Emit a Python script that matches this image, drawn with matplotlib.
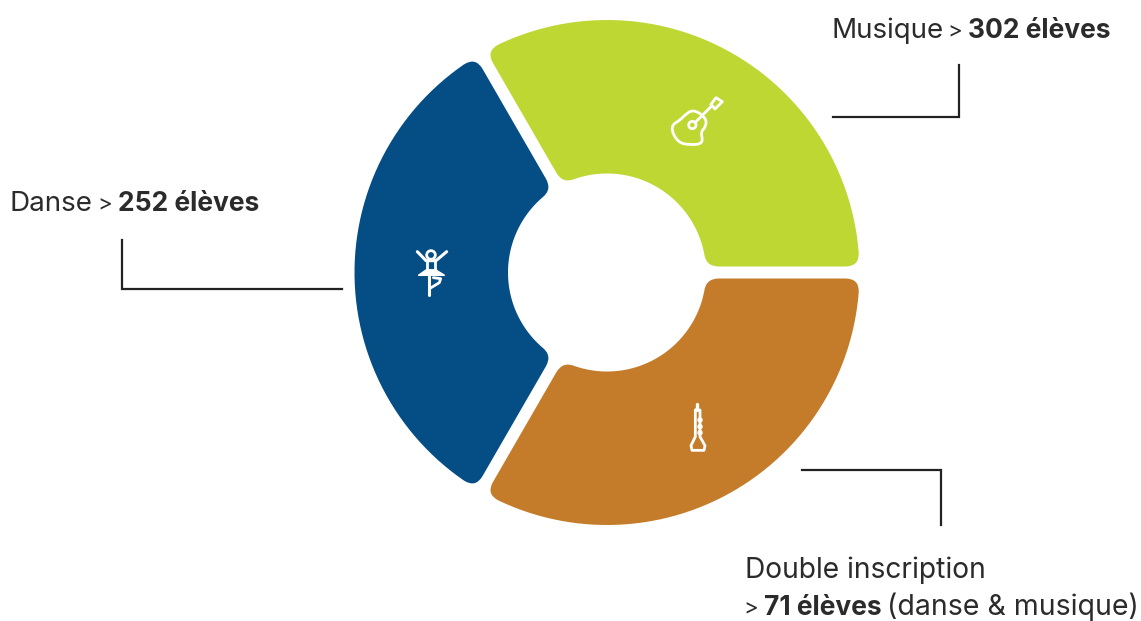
import numpy as np
import matplotlib
matplotlib.use("Agg")
import matplotlib.pyplot as plt
from matplotlib.path import Path
from matplotlib.patches import PathPatch, Circle, Polygon

# the three parts are drawn with the same size in the picture
categories = ["Musique", "Danse", "Double inscription"]
eleves = [302, 252, 71]
shares = [1, 1, 1]
colors = ["#bfd732", "#044d85", "#c47c2a"]
text_color = "#2b2b2b"

W, H = 1141, 621
cx, cy = 607, 272.5
r_out, r_in = 252.5, 99
gap = 12
round_out, round_in = 14, 13

plt.rcParams['font.family'] = ['Inter', 'DejaVu Sans']

fig = plt.figure(figsize=(W / 100, H / 100), dpi=100)
ax = fig.add_axes([0, 0, 1, 1])
ax.set_xlim(0, W)
ax.set_ylim(H, 0)
ax.axis("off")


def pol(r, a):
    return np.array([cx + r * np.cos(a), cy - r * np.sin(a)])


def arc_pts(r, a1, a2, n=60):
    return [pol(r, a) for a in np.linspace(a1, a2, n)]


def slice_path(a1, a2):
    # angle where the offset edge meets a circle of radius r
    half = gap / 2
    d_out = np.arcsin(half / r_out)
    d_in = np.arcsin(half / r_in)
    t_out = round_out / r_out
    t_in = round_in / r_in
    e1 = np.array([np.cos(a1), -np.sin(a1)])
    e2 = np.array([np.cos(a2), -np.sin(a2)])

    verts, codes = [], []

    def add(p, c):
        verts.append(p)
        codes.append(c)

    c_o1, c_o2 = pol(r_out, a1 + d_out), pol(r_out, a2 - d_out)
    c_i1, c_i2 = pol(r_in, a1 + d_in), pol(r_in, a2 - d_in)

    add(c_i1 + e1 * round_in, Path.MOVETO)
    add(c_o1 - e1 * round_out, Path.LINETO)
    add(c_o1, Path.CURVE3)
    add(pol(r_out, a1 + d_out + t_out), Path.CURVE3)
    for p in arc_pts(r_out, a1 + d_out + t_out, a2 - d_out - t_out):
        add(p, Path.LINETO)
    add(c_o2, Path.CURVE3)
    add(c_o2 - e2 * round_out, Path.CURVE3)
    add(c_i2 + e2 * round_in, Path.LINETO)
    add(c_i2, Path.CURVE3)
    add(pol(r_in, a2 - d_in - t_in), Path.CURVE3)
    for p in arc_pts(r_in, a2 - d_in - t_in, a1 + d_in + t_in):
        add(p, Path.LINETO)
    add(c_i1, Path.CURVE3)
    add(c_i1 + e1 * round_in, Path.CURVE3)
    add(c_i1 + e1 * round_in, Path.CLOSEPOLY)
    return Path(verts, codes)


start = 0.0
total = sum(shares)
for share, col in zip(shares, colors):
    a2 = start + 2 * np.pi * share / total
    ax.add_patch(PathPatch(slice_path(start, a2), fc=col, ec="none"))
    start = a2

# leader lines
ax.plot([833, 958.5, 958.5], [117, 117, 65], color="#222222", lw=1.6, solid_joinstyle="miter")
ax.plot([122, 122, 342], [240, 289, 289], color="#222222", lw=1.6, solid_joinstyle="miter")
ax.plot([802, 941, 941], [469.5, 469.5, 525], color="#222222", lw=1.6, solid_joinstyle="miter")


def label(x, y, s, weight="normal", size=20):
    ax.text(x, y, s, fontsize=size, fontweight=weight, color=text_color, va="baseline", ha="left")


label(832, 38, categories[0])
label(947, 37, ">", size=16)
label(968, 38, f"{eleves[0]} élèves", "bold", 19)
label(9, 211, categories[1])
label(97, 210, ">", size=16)
label(118, 211, f"{eleves[1]} élèves", "bold", 19)
label(745, 578, categories[2], size=20.3)
label(743, 614, ">", size=16)
label(764, 615, f"{eleves[2]} élèves", "bold", 19)
label(887, 615, "(danse & musique)", size=20.5)


# icons, sketched in small local pixel coordinates
def sx(x0, s=1 / 3):
    return lambda p: (x0[0] + p[0] * s, x0[1] + p[1] * s)


def smooth(points, tr):
    pts = [np.array(tr(p)) for p in points]
    n = len(pts)
    verts = [(pts[-1] + pts[0]) / 2]
    codes = [Path.MOVETO]
    for i in range(n):
        verts += [pts[i], (pts[i] + pts[(i + 1) % n]) / 2]
        codes += [Path.CURVE3, Path.CURVE3]
    return Path(verts, codes)


def stroke(tr, pts, lw=2.0):
    xy = [tr(p) for p in pts]
    ax.plot([p[0] for p in xy], [p[1] for p in xy], color="white", lw=lw,
            solid_capstyle="round", solid_joinstyle="round")


def ring(tr, p, r, lw=2.0, fill=False):
    ax.add_patch(Circle(tr(p), r / 3, fc="white" if fill else "none", ec="white", lw=lw))


# guitar
tg = sx((660, 85))
body = [(72, 92), (100, 72), (140, 100), (136, 128), (122, 140), (130, 176),
        (90, 180), (52, 172), (30, 124), (62, 104)]
ax.add_patch(PathPatch(smooth(body, tg), fc="none", ec="white", lw=2.0))
ring(tg, (97, 120), 11)
stroke(tg, [(106, 112), (152, 66)])
stroke(tg, [(153, 58), (168, 38), (187, 50), (165, 72), (153, 58)])

# dancer
td = sx((400, 240))
ring(td, (93, 45), 13)
stroke(td, [(52, 35), (78, 62), (108, 62), (140, 35)], lw=2.2)
stroke(td, [(80, 62), (80, 90), (105, 90), (105, 62)])
ax.add_patch(Polygon([td(p) for p in [(55, 106), (78, 90), (108, 90), (134, 106)]], fc="white", ec="white", lw=1))
stroke(td, [(87, 106), (87, 166)], lw=2.2)
stroke(td, [(100, 113), (122, 116), (118, 128), (90, 145)])

# clarinet
tc = sx((670, 395))
stroke(tc, [(82, 26), (82, 45)], lw=2.4)
stroke(tc, [(76, 45), (76, 125), (63, 152), (66, 166), (102, 166), (105, 152), (90, 125), (90, 45), (76, 45)])
for yy in (75, 95, 113):
    ring(tc, (90, yy), 6, lw=1, fill=True)

fig.savefig("out.png", dpi=100)
